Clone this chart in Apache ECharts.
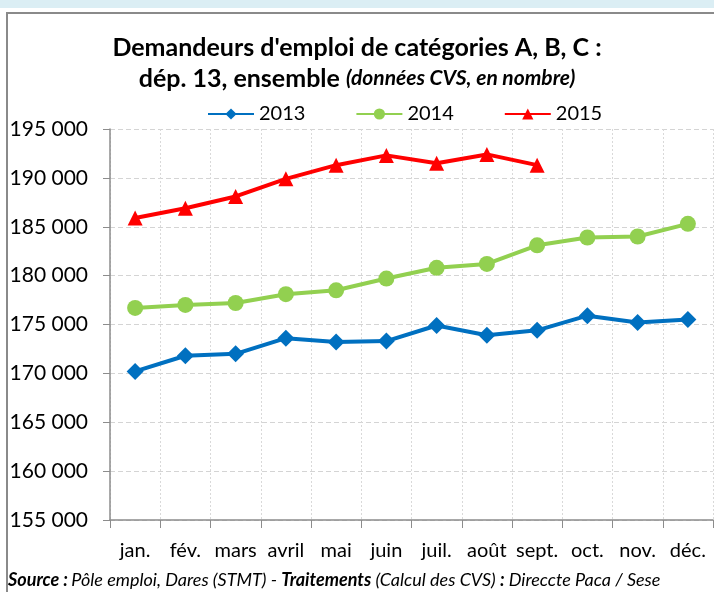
<!DOCTYPE html>
<html>
<head>
<meta charset="utf-8">
<script src="https://cdn.jsdelivr.net/npm/echarts@6/dist/echarts.min.js"></script>
<style>
  html, body { margin: 0; padding: 0; background: #fff; }
  #chart { width: 714px; height: 592px; }
</style>
</head>
<body>
<div id="chart"></div>
<script>
// mois
var months = ['jan.', 'fév.', 'mars', 'avril', 'mai', 'juin', 'juil.', 'août', 'sept.', 'oct.', 'nov.', 'déc.'];
// données CVS
var d2013 = [170200, 171800, 172000, 173600, 173200, 173300, 174900, 173900, 174400, 175900, 175200, 175500];
var d2014 = [176700, 177000, 177200, 178100, 178500, 179700, 180800, 181200, 183100, 183900, 184000, 185300];
var d2015 = [185900, 186900, 188100, 189900, 191300, 192300, 191500, 192400, 191300];
var yMin = 155000, yMax = 195000, yStep = 5000;

var font = 'Lato, "Open Sans", sans-serif';
var chart = echarts.init(document.getElementById('chart'));

chart.setOption({
    animation: false,
    textStyle: { fontFamily: font },
    title: {
        left: 'center',
        top: 27,
        text: "{b|Demandeurs d'emploi de catégories A, B, C :}\n{b|dép. 13, ensemble }{i|(données CVS, en nombre)}",
        textStyle: {
            rich: {
                b: { fontSize: 25, fontWeight: 'bold', color: '#000', fontFamily: font, lineHeight: 31 },
                i: { fontSize: 21, fontStyle: 'italic', color: '#000', fontFamily: font, lineHeight: 31 }
            }
        }
    },
    legend: {
        top: 99,
        left: 202,
        itemGap: 50,
        itemWidth: 46,
        itemHeight: 14,
        textStyle: { fontSize: 20, color: '#000', fontFamily: font },
        data: ['2013', '2014', '2015']
    },
    grid: { left: 110, right: 1, top: 129, bottom: 72, containLabel: false },
    xAxis: {
        type: 'category',
        data: months,
        boundaryGap: true,
        axisLine: { lineStyle: { color: '#8c8c8c', width: 1.5 } },
        axisTick: { show: true, length: 8, lineStyle: { color: '#8c8c8c' } },
        axisLabel: { fontSize: 20, color: '#000', margin: 21, interval: 0 },
        splitLine: { show: true, lineStyle: { color: '#d9d9d9', type: [2, 2] } }
    },
    yAxis: {
        type: 'value',
        min: yMin,
        max: yMax,
        interval: yStep,
        axisLine: { show: true, lineStyle: { color: '#8c8c8c', width: 1.5 } },
        axisTick: { show: true, length: 7, lineStyle: { color: '#8c8c8c' } },
        axisLabel: {
            fontSize: 21, color: '#000', margin: 22,
            formatter: function (v) { return String(v).replace(/(\d)(?=(\d{3})+$)/g, '$1 '); }
        },
        splitLine: { show: true, lineStyle: { color: '#d4d4d4', type: [5, 3] } }
    },
    graphic: [
        { type: 'rect', shape: { x: 0, y: 0, width: 714, height: 8 }, style: { fill: '#dbeef4' }, silent: true },
        { type: 'polyline', shape: { points: [[7, 592], [7, 13], [714, 13]] }, style: { stroke: '#8a8a8a', lineWidth: 2, fill: null }, silent: true },
        {
            type: 'text', left: 8, top: 571, silent: true,
            style: {
                text: '{b|Source :} {i|Pôle emploi, Dares (STMT) - }{b|Traitements}{i| (Calcul des CVS) }{b|:}{i| Direccte Paca / Sese}',
                rich: {
                    b: { fontSize: 18, fontWeight: 'bold', fontStyle: 'italic', fill: '#000', fontFamily: font },
                    i: { fontSize: 18, fontStyle: 'italic', fill: '#000', fontFamily: font }
                }
            }
        }
    ],
    series: [
        {
            name: '2013', type: 'line', data: d2013,
            symbol: 'diamond', symbolSize: 17,
            lineStyle: { color: '#0070c0', width: 4 },
            itemStyle: { color: '#0070c0' }
        },
        {
            name: '2014', type: 'line', data: d2014,
            symbol: 'circle', symbolSize: 16,
            lineStyle: { color: '#92d050', width: 4 },
            itemStyle: { color: '#92d050' }
        },
        {
            name: '2015', type: 'line', data: d2015,
            symbol: 'triangle', symbolSize: 15,
            lineStyle: { color: '#ff0000', width: 4 },
            itemStyle: { color: '#ff0000' }
        }
    ]
});
</script>
</body>
</html>
